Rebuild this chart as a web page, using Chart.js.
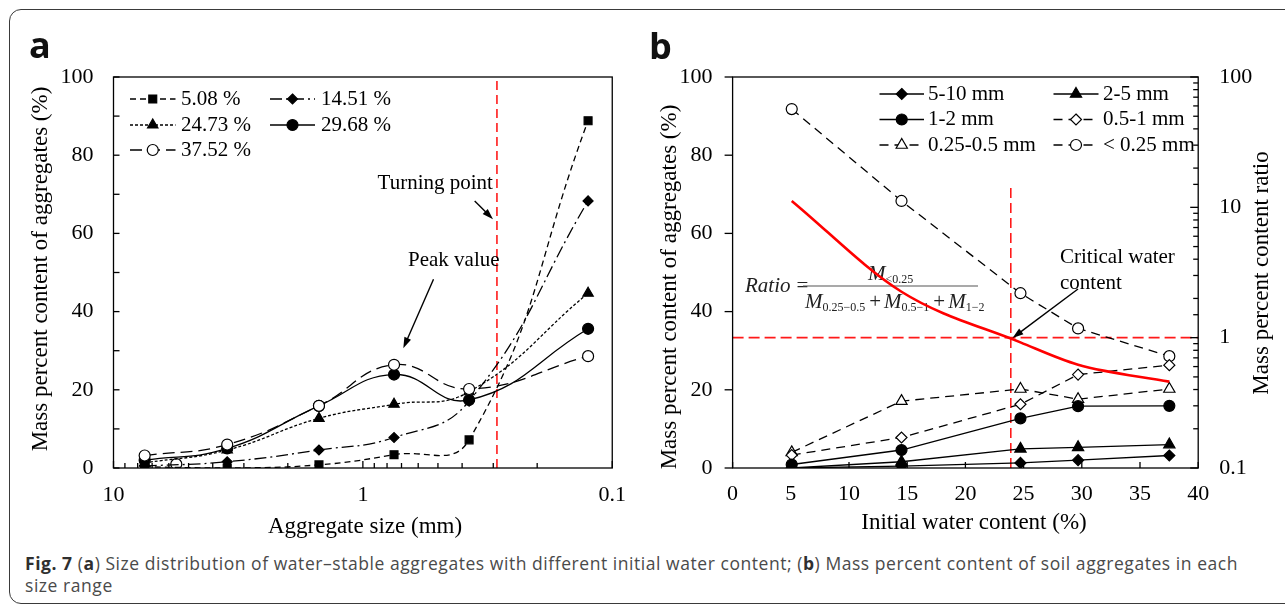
<!DOCTYPE html>
<html>
<head>
<meta charset="utf-8">
<script src="https://cdn.jsdelivr.net/npm/chart.js@4.4.1/dist/chart.umd.min.js"></script>
<style>
  html, body { margin: 0; padding: 0; background: #fff; }
  body { width: 1285px; height: 607px; position: relative; overflow: hidden; }
  .frame { position: absolute; left: 9px; top: 9px; width: 1330px; height: 595px; border: 1.5px solid #3a3a3a; border-radius: 12px; box-sizing: border-box; }
  canvas { position: absolute; top: 0; }
  #chartA { left: 0; }
  #chartB { left: 640px; }
  #caption { position: absolute; left: 25px; top: 552px; font-family: "Open Sans", "Noto Sans", sans-serif; font-size: 17.5px; line-height: 22px; color: #4a4a4a; white-space: nowrap; }
  #caption b { color: #2f2f2f; }
</style>
</head>
<body>
<div class="frame"></div>
<canvas id="chartA" width="640" height="545"></canvas>
<canvas id="chartB" width="645" height="545"></canvas>
<div id="caption"><span id="capLine"><b>Fig. 7</b> (<b>a</b>) Size distribution of water–stable aggregates with different initial water content; (<b>b</b>) Mass percent content of soil aggregates in each</span><br>size range</div>

<script>
// ---- panel a: size distribution, one series per initial water content ----
const aSizes = [7.5, 3.5, 1.5, 0.75, 0.375, 0.125];
const aLabels = ["5.08 %", "14.51 %", "24.73 %", "29.68 %", "37.52 %"];
const aW508 = [0.3, 0, 0.8, 3.4, 7.2, 88.8];
const aW1451 = [0.5, 1.6, 4.6, 7.8, 17.1, 68.3];
const aW2473 = [1.3, 4.6, 12.7, 16.3, 19.5, 44.7];
const aW2968 = [2.0, 5.0, 15.9, 23.9, 17.4, 35.6];
const aW3752 = [3.2, 6.0, 15.9, 26.4, 20.2, 28.6];
const aStraySize = [5.6];
const aStrayValue = [1.0];
const aTurningSize = 0.29;
const aXTickLabels = [10, 1, 0.1];
const aYTickLabels = [0, 20, 40, 60, 80, 100];

// ---- panel b: content of each size range vs initial water content ----
const bWater = [5.08, 14.51, 24.73, 29.68, 37.52];
const bRangeLabels = ["5-10 mm", "2-5 mm", "1-2 mm", "0.5-1 mm", "0.25-0.5 mm", "< 0.25 mm"];
const b5to10 = [0, 0.5, 1.3, 2.0, 3.2];
const b2to5 = [0, 1.6, 4.9, 5.3, 6.0];
const b1to2 = [0.9, 4.6, 12.7, 15.8, 15.9];
const b05to1 = [3.3, 7.8, 16.3, 23.9, 26.3];
const b025to05 = [4.0, 17.1, 20.2, 17.6, 20.2];
const bBelow025 = [91.8, 68.3, 44.7, 35.7, 28.6];
const bRatio = [11.2, 2.25, 0.92, 0.62, 0.46];
const bCriticalWater = 23.9;
const bCriticalTop = 72.5;
const bRatioLevel = 1;
const bXTickLabels = [0, 5, 10, 15, 20, 25, 30, 35, 40];
const bYTickLabels = [0, 20, 40, 60, 80, 100];
const bY2TickLabels = [0.1, 1, 10, 100];

const SERIF = '"Liberation Serif", "Times New Roman", serif';

function series(label, xs, ys, style) {
  return Object.assign({
    label,
    data: xs.map((x, i) => ({ x, y: ys[i] })),
    borderColor: "#000",
    borderWidth: 1.3,
    pointBorderColor: "#000",
    pointBackgroundColor: "#000",
    pointBorderWidth: 1.2,
    pointRadius: 5,
    tension: 0,
    fill: false
  }, style);
}

function pickLabel(list) {
  return (v) => {
    const hit = list.find((t) => Math.abs(t - v) <= Math.abs(t) * 1e-6 + 1e-9);
    return hit === undefined ? "" : String(hit);
  };
}

function drawMarker(ctx, style, r, x, y) {
  ctx.beginPath();
  if (style === "circle") {
    ctx.arc(x, y, r, 0, Math.PI * 2);
  } else if (style === "rect") {
    const s = r * Math.SQRT1_2;
    ctx.rect(x - s, y - s, 2 * s, 2 * s);
  } else if (style === "rectRot") {
    ctx.moveTo(x, y - r); ctx.lineTo(x + r, y); ctx.lineTo(x, y + r); ctx.lineTo(x - r, y);
    ctx.closePath();
  } else if (style === "triangle") {
    ctx.moveTo(x, y - r);
    ctx.lineTo(x + r * Math.sin(Math.PI * 2 / 3), y - r * Math.cos(Math.PI * 2 / 3));
    ctx.lineTo(x - r * Math.sin(Math.PI * 2 / 3), y - r * Math.cos(Math.PI * 2 / 3));
    ctx.closePath();
  }
  ctx.fill();
  ctx.stroke();
}

function drawArrow(ctx, a) {
  const ang = Math.atan2(a.y1 - a.y0, a.x1 - a.x0);
  const c = Math.cos(ang), s = Math.sin(ang);
  const hl = 11, hw = 3.6;
  ctx.strokeStyle = "#000";
  ctx.fillStyle = "#000";
  ctx.lineWidth = 1.4;
  ctx.beginPath();
  ctx.moveTo(a.x0, a.y0);
  ctx.lineTo(a.x1 - c * hl * 0.7, a.y1 - s * hl * 0.7);
  ctx.stroke();
  ctx.beginPath();
  ctx.moveTo(a.x1, a.y1);
  ctx.lineTo(a.x1 - hl * c + hw * s, a.y1 - hl * s - hw * c);
  ctx.lineTo(a.x1 - hl * c - hw * s, a.y1 - hl * s + hw * c);
  ctx.closePath();
  ctx.fill();
}

function drawFormula(ctx, f) {
  const big = "italic 21px " + SERIF, up = "21px " + SERIF, sub = "12px " + SERIF;
  ctx.fillStyle = "#222";
  ctx.textAlign = "left";
  ctx.textBaseline = "alphabetic";
  ctx.font = big;
  ctx.fillText("Ratio", f.x, f.y);
  const w = ctx.measureText("Ratio").width;
  ctx.font = up;
  ctx.fillText("=", f.x + w + 6, f.y);

  ctx.strokeStyle = "#555";
  ctx.lineWidth = 1.2;
  ctx.beginPath();
  ctx.moveTo(f.barX0, f.barY);
  ctx.lineTo(f.barX1, f.barY);
  ctx.stroke();

  let nx = f.numX;
  ctx.font = big;
  ctx.fillText("M", nx, f.numY);
  nx += ctx.measureText("M").width;
  ctx.font = sub;
  ctx.fillText("<0.25", nx, f.numY + 3);

  let dx = f.denX;
  [["M", "0.25−0.5"], ["M", "0.5−1"], ["M", "1−2"]].forEach(([m, s], i) => {
    if (i) {
      dx += 4;
      ctx.font = up;
      ctx.fillText("+", dx, f.denY);
      dx += ctx.measureText("+").width + 3;
    }
    ctx.font = big;
    ctx.fillText(m, dx, f.denY);
    dx += ctx.measureText(m).width;
    ctx.font = sub;
    ctx.fillText(s, dx, f.denY + 3);
    dx += ctx.measureText(s).width;
  });
}

// box round the plot plus inward/outward tick marks
const frameTicks = {
  id: "frameTicks",
  afterDatasetsDraw(chart, args, opts) {
    const { ctx, chartArea: a } = chart;
    ctx.save();
    ctx.strokeStyle = "#000";
    ctx.lineWidth = 1.3;
    ctx.strokeRect(a.left, a.top, a.right - a.left, a.bottom - a.top);
    Object.entries(opts.axes || {}).forEach(([id, cfg]) => {
      const scale = chart.scales[id];
      scale.ticks.forEach((t) => {
        const len = t.label !== "" ? cfg.major : cfg.minor;
        if (!len) return;
        const p = scale.getPixelForValue(t.value);
        ctx.beginPath();
        if (scale.isHorizontal()) {
          ctx.moveTo(p, a.bottom); ctx.lineTo(p, a.bottom - len * cfg.dir);
        } else if (scale.position === "left") {
          ctx.moveTo(a.left, p); ctx.lineTo(a.left + len * cfg.dir, p);
        } else {
          ctx.moveTo(a.right, p); ctx.lineTo(a.right - len * cfg.dir, p);
        }
        ctx.stroke();
      });
    });
    ctx.restore();
  }
};

// legend with line sample + marker, laid out in a grid
const lineLegend = {
  id: "lineLegend",
  afterDraw(chart, args, opts) {
    const { ctx } = chart;
    ctx.save();
    ctx.textBaseline = "middle";
    ctx.textAlign = "left";
    opts.items.forEach((it) => {
      const ds = chart.data.datasets.find((d) => d.label === it.label);
      const y = opts.rows[it.row];
      const col = opts.cols[it.col];
      ctx.strokeStyle = ds.borderColor;
      ctx.lineWidth = ds.borderWidth;
      ctx.setLineDash(ds.borderDash || []);
      ctx.beginPath();
      ctx.moveTo(col.x0, y);
      ctx.lineTo(col.x1, y);
      ctx.stroke();
      ctx.setLineDash([]);
      ctx.fillStyle = ds.pointBackgroundColor;
      ctx.strokeStyle = ds.pointBorderColor;
      ctx.lineWidth = ds.pointBorderWidth;
      drawMarker(ctx, ds.pointStyle, ds.pointRadius, (col.x0 + col.x1) / 2, y);
      ctx.fillStyle = "#000";
      ctx.font = opts.font;
      ctx.fillText(ds.label, col.tx, y);
    });
    ctx.restore();
  }
};

// free text, arrows, panel letters, formula
const notes = {
  id: "notes",
  beforeDatasetsDraw(chart, args, opts) {
    if (opts.formula) {
      chart.ctx.save();
      drawFormula(chart.ctx, opts.formula);
      chart.ctx.restore();
    }
  },
  afterDraw(chart, args, opts) {
    const { ctx } = chart;
    ctx.save();
    (opts.texts || []).forEach((t) => {
      ctx.save();
      ctx.font = t.font;
      ctx.fillStyle = t.color || "#000";
      ctx.textAlign = t.align || "left";
      ctx.textBaseline = t.baseline || "middle";
      ctx.translate(t.x, t.y);
      if (t.rot) ctx.rotate(t.rot);
      ctx.fillText(t.text, 0, 0);
      ctx.restore();
    });
    (opts.arrows || []).forEach((a) => drawArrow(ctx, a));
    ctx.restore();
  }
};

const tickFont = { family: SERIF, size: 22 };
const noGrid = { display: false, drawTicks: false };
const noBorder = { display: false };

// ---------- chart a ----------
const smooth = 0.45;
const aDatasets = [
  series(aLabels[4], aSizes, aW3752, { borderDash: [12, 6], pointStyle: "circle", pointRadius: 5.5, pointBackgroundColor: "#fff", tension: smooth }),
  series(aLabels[3], aSizes, aW2968, { pointStyle: "circle", pointRadius: 5.5, tension: smooth }),
  series(aLabels[2], aSizes, aW2473, { borderDash: [3, 2], pointStyle: "triangle", pointRadius: 6, tension: smooth }),
  series(aLabels[1], aSizes, aW1451, { borderDash: [12, 4, 2, 4], pointStyle: "rectRot", pointRadius: 5, tension: smooth }),
  series(aLabels[0], aSizes, aW508, { borderDash: [6, 4], pointStyle: "rect", pointRadius: 5.6, tension: smooth }),
  series("stray", aStraySize, aStrayValue, { showLine: false, pointStyle: "circle", pointRadius: 5.5, pointBackgroundColor: "#fff" }),
  series("turning", [aTurningSize, aTurningSize], [aYTickLabels[0], aYTickLabels[aYTickLabels.length - 1]], {
    borderColor: "#ff1a1a", borderWidth: 1.6, borderDash: [9, 5], pointRadius: 0
  })
];

new Chart(document.getElementById("chartA"), {
  type: "line",
  data: { datasets: aDatasets },
  options: {
    responsive: false,
    animation: false,
    devicePixelRatio: 1,
    layout: { padding: { top: 77, right: 25, left: 0, bottom: 0 } },
    plugins: {
      legend: { display: false },
      tooltip: { enabled: false },
      frameTicks: { axes: { x: { major: 7, minor: 5, dir: 1 }, y: { major: 6, minor: 6, dir: 1 } } },
      lineLegend: {
        font: "21px " + SERIF,
        rows: [99, 125, 150],
        cols: [{ x0: 130, x1: 175.5, tx: 181 }, { x0: 270, x1: 315, tx: 321 }],
        items: [
          { label: aLabels[0], row: 0, col: 0 },
          { label: aLabels[1], row: 0, col: 1 },
          { label: aLabels[2], row: 1, col: 0 },
          { label: aLabels[3], row: 1, col: 1 },
          { label: aLabels[4], row: 2, col: 0 }
        ]
      },
      notes: {
        texts: [
          { text: "a", x: 29, y: 58, font: 'bold 36px "Open Sans", "Noto Sans", sans-serif', baseline: "alphabetic", color: "#111" },
          { text: "Mass percent content of aggregates (%)", x: 41, y: 269, rot: -Math.PI / 2, align: "center", font: "23px " + SERIF },
          { text: "Aggregate size (mm)", x: 365, y: 527, align: "center", font: "23px " + SERIF },
          { text: "Turning point", x: 377.6, y: 183, font: "21px " + SERIF },
          { text: "Peak value", x: 408, y: 260, font: "21px " + SERIF }
        ],
        arrows: [
          { x0: 474.7, y0: 201, x1: 493, y1: 219.3 },
          { x0: 433.5, y0: 279.3, x1: 403.3, y1: 348.3 }
        ]
      }
    },
    scales: {
      x: {
        type: "logarithmic",
        reverse: true,
        min: 0.1,
        max: 10,
        grid: noGrid,
        border: noBorder,
        ticks: { font: tickFont, color: "#000", padding: 14, autoSkip: false, maxRotation: 0, callback: pickLabel(aXTickLabels) },
        afterFit: (s) => { s.height = 77; }
      },
      y: {
        min: 0,
        max: 100,
        grid: noGrid,
        border: noBorder,
        ticks: { stepSize: 10, font: tickFont, color: "#000", padding: 20, autoSkip: false, callback: pickLabel(aYTickLabels) },
        afterFit: (s) => { s.width = 113.5; }
      }
    }
  },
  plugins: [frameTicks, lineLegend, notes]
});

// ---------- chart b ----------
const dashed = [9, 6];
const bDatasets = [
  series("ratio", bWater, bRatio, { yAxisID: "y2", borderColor: "#ff0000", borderWidth: 2.6, pointRadius: 0, cubicInterpolationMode: "monotone" }),
  series(bRangeLabels[0], bWater, b5to10, { pointStyle: "rectRot", pointRadius: 5.5 }),
  series(bRangeLabels[1], bWater, b2to5, { pointStyle: "triangle", pointRadius: 6.5 }),
  series(bRangeLabels[2], bWater, b1to2, { pointStyle: "circle", pointRadius: 5.5 }),
  series(bRangeLabels[3], bWater, b05to1, { borderDash: dashed, pointStyle: "rectRot", pointRadius: 5.5, pointBackgroundColor: "#fff" }),
  series(bRangeLabels[4], bWater, b025to05, { borderDash: dashed, pointStyle: "triangle", pointRadius: 6.5, pointBackgroundColor: "#fff" }),
  series(bRangeLabels[5], bWater, bBelow025, { borderDash: dashed, pointStyle: "circle", pointRadius: 5.5, pointBackgroundColor: "#fff" }),
  series("critical", [bCriticalWater, bCriticalWater], [0, bCriticalTop], {
    borderColor: "#ff1a1a", borderWidth: 1.6, borderDash: [10, 5], pointRadius: 0
  }),
  series("level", [bXTickLabels[0], bXTickLabels[bXTickLabels.length - 1]], [bRatioLevel, bRatioLevel], {
    yAxisID: "y2", borderColor: "#ff1a1a", borderWidth: 1.6, borderDash: [11, 5], pointRadius: 0
  })
];

new Chart(document.getElementById("chartB"), {
  type: "line",
  data: { datasets: bDatasets },
  options: {
    responsive: false,
    animation: false,
    devicePixelRatio: 1,
    layout: { padding: { top: 77, right: 0, left: 0, bottom: 0 } },
    plugins: {
      legend: { display: false },
      tooltip: { enabled: false },
      frameTicks: { axes: { x: { major: 6, minor: 6, dir: 1 }, y: { major: 8, minor: 0, dir: -1 }, y2: { major: 8, minor: 5, dir: 1 } } },
      lineLegend: {
        font: "21px " + SERIF,
        rows: [94, 119.5, 145],
        cols: [{ x0: 239.5, x1: 284, tx: 288 }, { x0: 413.5, x1: 458.5, tx: 463 }],
        items: [
          { label: bRangeLabels[0], row: 0, col: 0 },
          { label: bRangeLabels[1], row: 0, col: 1 },
          { label: bRangeLabels[2], row: 1, col: 0 },
          { label: bRangeLabels[3], row: 1, col: 1 },
          { label: bRangeLabels[4], row: 2, col: 0 },
          { label: bRangeLabels[5], row: 2, col: 1 }
        ]
      },
      notes: {
        formula: { x: 105, y: 292, barX0: 163, barX1: 338, barY: 286, numX: 228, numY: 280, denX: 165, denY: 308 },
        texts: [
          { text: "b", x: 9, y: 59, font: 'bold 36px "Open Sans", "Noto Sans", sans-serif', baseline: "alphabetic", color: "#111" },
          { text: "Mass percent content of aggregates (%)", x: 30, y: 287, rot: -Math.PI / 2, align: "center", font: "23px " + SERIF },
          { text: "Initial water content (%)", x: 334, y: 523, align: "center", font: "23px " + SERIF },
          { text: "Mass percent content ratio", x: 622, y: 273, rot: -Math.PI / 2, align: "center", font: "23px " + SERIF },
          { text: "Critical water", x: 420, y: 257, font: "21px " + SERIF },
          { text: "content", x: 420, y: 283, font: "21px " + SERIF }
        ],
        arrows: [
          { x0: 438, y0: 289, x1: 372.5, y1: 338 }
        ]
      }
    },
    scales: {
      x: {
        type: "linear",
        min: 0,
        max: 40,
        grid: noGrid,
        border: noBorder,
        ticks: { stepSize: 5, font: tickFont, color: "#000", padding: 13, autoSkip: false, maxRotation: 0, callback: pickLabel(bXTickLabels) },
        afterFit: (s) => { s.height = 77; }
      },
      y: {
        position: "left",
        min: 0,
        max: 100,
        grid: noGrid,
        border: noBorder,
        ticks: { stepSize: 20, font: tickFont, color: "#000", padding: 20, autoSkip: false, callback: pickLabel(bYTickLabels) },
        afterFit: (s) => { s.width = 92.6; }
      },
      y2: {
        type: "logarithmic",
        position: "right",
        min: 0.1,
        max: 100,
        grid: noGrid,
        border: noBorder,
        ticks: { font: tickFont, color: "#000", padding: 21, autoSkip: false, callback: pickLabel(bY2TickLabels) },
        afterFit: (s) => { s.width = 86.8; }
      }
    }
  },
  plugins: [frameTicks, lineLegend, notes]
});

// fit the first caption line to the printed width
(function fitCaption() {
  const line = document.getElementById("capLine");
  const cap = document.getElementById("caption");
  const target = 1213;
  const w = line.getBoundingClientRect().width;
  const chars = line.textContent.length;
  cap.style.letterSpacing = ((target - w) / chars).toFixed(3) + "px";
})();
</script>
</body>
</html>
